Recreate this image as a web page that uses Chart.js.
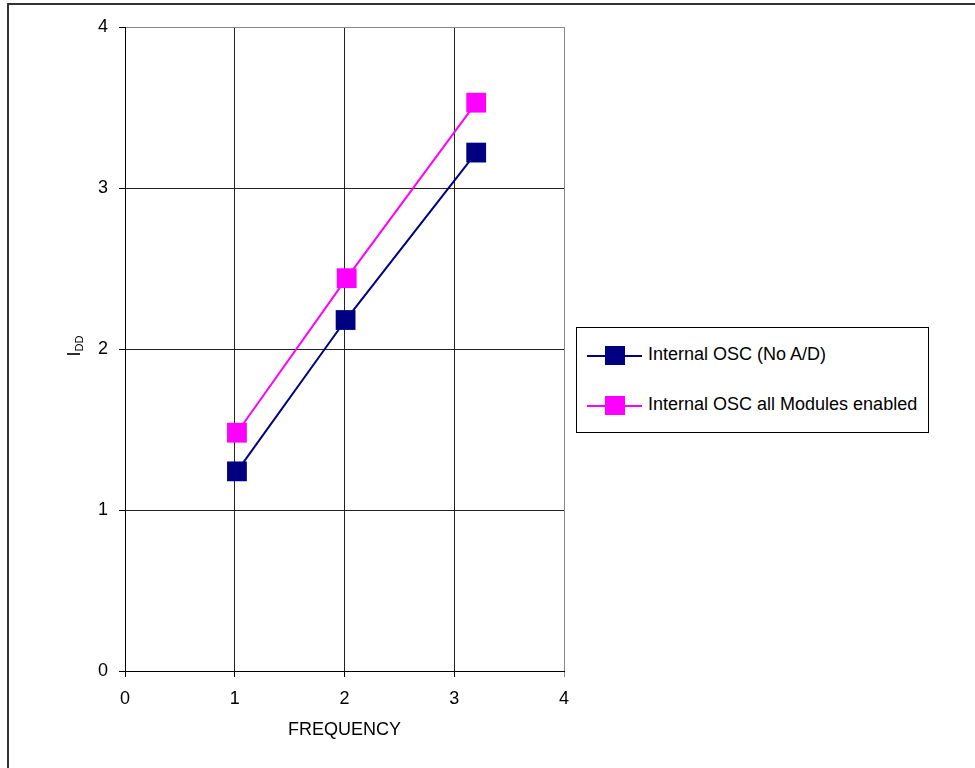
<!DOCTYPE html>
<html>
<head>
<meta charset="utf-8">
<script src="https://cdn.jsdelivr.net/npm/chart.js@4"></script>
<style>
  html, body { margin: 0; padding: 0; background: #fff; overflow: hidden; }
  body { width: 975px; height: 768px; position: relative; font-family: 'Liberation Sans', Arial, sans-serif; }
  #frame { position: absolute; left: 7px; top: 3px; width: 2000px; height: 2000px; border: 2px solid #333; }
  #myChart { position: absolute; left: 0; top: 0; }
  #legend { position: absolute; left: 576px; top: 327px; width: 351px; height: 104px; border: 1px solid #000; background: #fff; }
  .item { position: absolute; left: 10px; height: 20px; width: 340px; }
  .item .ln { position: absolute; left: 0; top: 9px; width: 55px; height: 2px; }
  .item .mk { position: absolute; left: 18px; top: 0; width: 20px; height: 19px; }
  .item .tx { position: absolute; left: 61px; top: -2px; font-size: 18px; color: #000; white-space: nowrap; }
</style>
</head>
<body>
<div id="frame"></div>
<canvas id="myChart" width="975" height="768"></canvas>
<div id="legend"></div>
<script>
// values
let seriesNames = ['Internal OSC (No A/D)', 'Internal OSC all Modules enabled']
let seriesColors = ['#000080', '#FF00FF']
let freqNoAD = [1.02, 2.01, 3.2]
let iddNoAD = [1.24, 2.18, 3.22]
let freqAll = [1.02, 2.02, 3.2]
let iddAll = [1.48, 2.44, 3.53]
let xTicks = [0, 1, 2, 3, 4]
let yTicks = [0, 1, 2, 3, 4]

function toPoints(xs, ys){
    let pts = []
    for(let i = 0; i < xs.length; i++){
        pts.push({x: xs[i], y: ys[i]})
    }
    return pts
}

const fontFam = "'Liberation Sans', Arial, sans-serif"

// y title with subscript: I DD
const yTitlePlugin = {
    id: 'yTitle',
    afterDraw(chart){
        const ctx = chart.ctx
        const area = chart.chartArea
        ctx.save()
        ctx.translate(80, (area.top + area.bottom) / 2 - 3)
        ctx.rotate(-Math.PI / 2)
        ctx.fillStyle = '#000'
        ctx.textBaseline = 'alphabetic'
        ctx.font = '18px ' + fontFam
        const wI = ctx.measureText('I').width
        ctx.font = '11px ' + fontFam
        const wD = ctx.measureText('DD').width
        const start = -(wI + wD) / 2
        ctx.font = '18px ' + fontFam
        ctx.fillText('I', start, 0)
        ctx.font = '11px ' + fontFam
        ctx.fillText('DD', start + wI, 3)
        ctx.restore()
    }
}

const chart1 = document.getElementById('myChart')

new Chart(chart1, {
    type: 'scatter',
    data: {
        datasets: [{
            label: seriesNames[0],
            data: toPoints(freqNoAD, iddNoAD),
            showLine: true,
            borderColor: seriesColors[0],
            backgroundColor: seriesColors[0],
            borderWidth: 2,
            pointStyle: 'rect',
            pointRadius: 14,
            pointHoverRadius: 14,
            pointBorderWidth: 0
        }, {
            label: seriesNames[1],
            data: toPoints(freqAll, iddAll),
            showLine: true,
            borderColor: seriesColors[1],
            backgroundColor: seriesColors[1],
            borderWidth: 2,
            pointStyle: 'rect',
            pointRadius: 14,
            pointHoverRadius: 14,
            pointBorderWidth: 0
        }]
    },
    options: {
        responsive: false,
        animation: false,
        devicePixelRatio: 1,
        layout: { padding: { left: 0, top: 27, right: 411, bottom: 0 } },
        plugins: {
            legend: { display: false },
            tooltip: { enabled: false }
        },
        scales: {
            x: {
                type: 'linear',
                min: 0,
                max: 4,
                afterFit(scale){ scale.height = 97 },
                afterBuildTicks(scale){ scale.ticks = xTicks.map(v => ({value: v})) },
                grid: {
                    color: ctx => ctx.tick && ctx.tick.value === 4 ? '#888' : '#222',
                    tickColor: ctx => ctx.tick && ctx.tick.value === 4 ? '#888' : '#000',
                    lineWidth: 1,
                    tickLength: 6
                },
                border: { color: '#000', width: 1 },
                ticks: {
                    color: '#000',
                    padding: 11,
                    maxRotation: 0,
                    font: { family: fontFam, size: 18 }
                },
                title: {
                    display: true,
                    text: 'FREQUENCY',
                    color: '#000',
                    font: { family: fontFam, size: 18 },
                    padding: { top: 0, bottom: 27 }
                }
            },
            y: {
                type: 'linear',
                min: 0,
                max: 4,
                afterFit(scale){ scale.width = 125 },
                afterBuildTicks(scale){ scale.ticks = yTicks.map(v => ({value: v})) },
                grid: {
                    color: ctx => ctx.tick && ctx.tick.value === 4 ? '#888' : '#222',
                    tickColor: '#000',
                    lineWidth: 1,
                    tickLength: 6
                },
                border: { color: '#000', width: 1 },
                ticks: {
                    color: '#000',
                    padding: 11,
                    font: { family: fontFam, size: 18 }
                }
            }
        }
    },
    plugins: [yTitlePlugin]
})

// legend box
const legend = document.getElementById('legend')
seriesNames.forEach((name, i) => {
    const item = document.createElement('div')
    item.className = 'item'
    item.style.top = (18 + i * 50) + 'px'
    item.innerHTML = '<div class="ln" style="background:' + seriesColors[i] + '"></div>' +
        '<div class="mk" style="background:' + seriesColors[i] + '"></div>' +
        '<div class="tx">' + name + '</div>'
    legend.appendChild(item)
})
</script>
</body>
</html>
